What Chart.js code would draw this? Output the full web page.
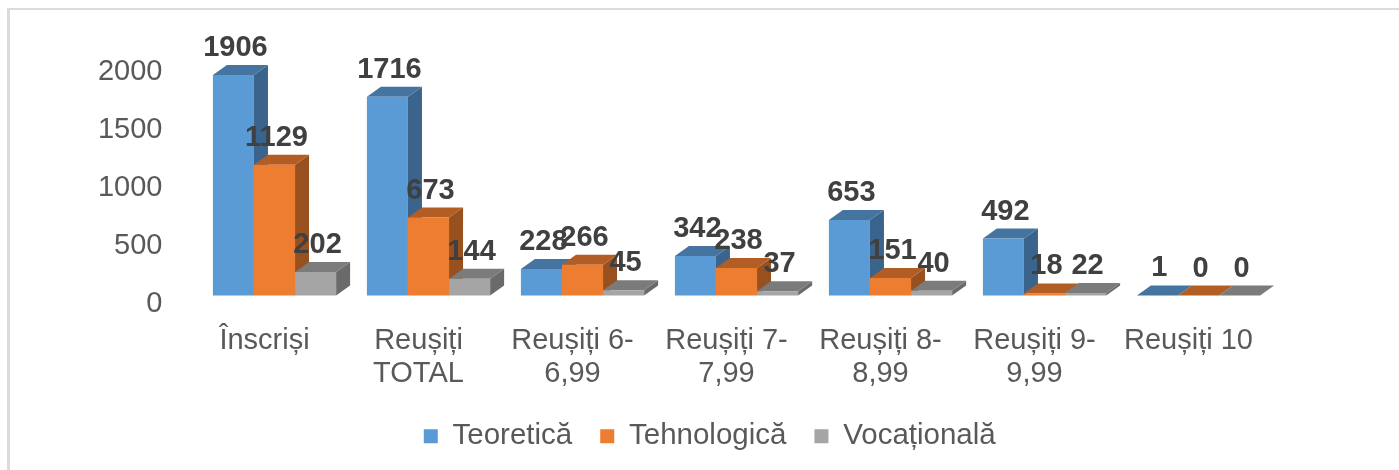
<!DOCTYPE html>
<html lang="ro">
<head>
<meta charset="utf-8">
<title>Reușiți</title>
<style>
  html, body { margin: 0; padding: 0; background: #fff; }
  #cadru { position: absolute; left: 7px; top: 8px; right: 0; bottom: 0; border-left: 3px solid #DCDCDC; border-top: 2px solid #DCDCDC; }
  canvas { display: block; position: absolute; left: 0; top: 0; filter: blur(0.5px); }
</style>
<script src="https://cdn.jsdelivr.net/npm/chart.js@4"></script>
</head>
<body>
<div id="cadru"></div>
<canvas id="grafic" width="1399" height="470"></canvas>
<script>
// ─── Data ───────────────────────────────────────────────────────────────────
const categorii = [
  'Înscriși',
  ['Reușiți', 'TOTAL'],
  ['Reușiți 6-', '6,99'],
  ['Reușiți 7-', '7,99'],
  ['Reușiți 8-', '8,99'],
  ['Reușiți 9-', '9,99'],
  'Reușiți 10'
];
const teoretica = [1906, 1716, 228, 342, 653, 492, 1];
const tehnologica = [1129, 673, 266, 238, 151, 18, 0];
const vocationala = [202, 144, 45, 37, 40, 22, 0];
const yTicks = [0, 500, 1000, 1500, 2000];

const FONT = '"Liberation Sans", Arial, sans-serif';
const DX = 14, DY = -10;
const LEGEND_DX = 72, LEGEND_DY = -9;

// fake 3D: side and top faces of each bar, front drawn in series order so orange covers blue's side
const bar3d = {
  id: 'bar3d',
  afterLayout(chart) {
    const l = chart.legend;
    l.left += LEGEND_DX; l.right += LEGEND_DX;
    l.top += LEGEND_DY; l.bottom += LEGEND_DY;
  },
  beforeDatasetDraw() {
    return false; // bars are drawn in beforeDatasetsDraw
  },
  beforeDatasetsDraw(chart) {
    const ctx = chart.ctx;
    chart.data.datasets.forEach((ds, i) => {
      chart.getDatasetMeta(i).data.forEach(bar => {
        const left = bar.x - bar.width / 2, right = bar.x + bar.width / 2;
        ctx.fillStyle = ds.sideColor;
        ctx.beginPath();
        ctx.moveTo(right, bar.y);
        ctx.lineTo(right + DX, bar.y + DY);
        ctx.lineTo(right + DX, bar.base + DY);
        ctx.lineTo(right, bar.base);
        ctx.closePath();
        ctx.fill();
        ctx.fillStyle = ds.topColor;
        ctx.beginPath();
        ctx.moveTo(left, bar.y);
        ctx.lineTo(left + DX, bar.y + DY);
        ctx.lineTo(right + DX, bar.y + DY);
        ctx.lineTo(right, bar.y);
        ctx.closePath();
        ctx.fill();
        bar.draw(ctx);
      });
    });
  },
  afterDatasetsDraw(chart) {
    const ctx = chart.ctx;
    ctx.save();
    ctx.font = 'bold 29px ' + FONT;
    ctx.fillStyle = '#404040';
    ctx.textAlign = 'center';
    ctx.textBaseline = 'middle';
    chart.data.datasets.forEach((ds, i) => {
      chart.getDatasetMeta(i).data.forEach((bar, j) => {
        ctx.fillText(ds.data[j], bar.x + 2, bar.y - 27);
      });
    });
    ctx.restore();
  }
};

new Chart(document.getElementById('grafic'), {
  type: 'bar',
  data: {
    labels: categorii,
    datasets: [
      { label: 'Teoretică', data: teoretica, backgroundColor: '#5B9BD5', sideColor: '#3A648C', topColor: '#44749F' },
      { label: 'Tehnologică', data: tehnologica, backgroundColor: '#ED7D31', sideColor: '#98501E', topColor: '#B15D24' },
      { label: 'Vocațională', data: vocationala, backgroundColor: '#A5A5A5', sideColor: '#6A6A6A', topColor: '#7B7B7B' }
    ]
  },
  options: {
    responsive: false,
    animation: false,
    devicePixelRatio: 1,
    layout: { padding: { left: 0, right: 123.5, top: 64, bottom: 0 } },
    datasets: { bar: { categoryPercentage: 0.8, barPercentage: 1, borderWidth: 0 } },
    plugins: {
      tooltip: { enabled: false },
      legend: {
        position: 'bottom',
        labels: {
          boxWidth: 14,
          boxHeight: 14,
          padding: 28,
          color: '#595959',
          font: { family: FONT, size: 29.5 }
        }
      }
    },
    scales: {
      x: {
        grid: { display: false },
        border: { display: false },
        afterFit(scale) { scale.height = 107; },
        ticks: {
          color: '#595959',
          font: { family: FONT, size: 29, lineHeight: 1.14 },
          maxRotation: 0,
          autoSkip: false,
          labelOffset: -10,
          padding: 21
        }
      },
      y: {
        min: 0,
        max: 2000,
        grid: { display: false },
        border: { display: false },
        afterFit(scale) { scale.width = 197.5; },
        afterBuildTicks(scale) { scale.ticks = yTicks.map(v => ({ value: v })); },
        ticks: {
          color: '#595959',
          font: { family: FONT, size: 29 },
          padding: 27,
          labelOffset: 8,
          callback: v => String(v)
        }
      }
    }
  },
  plugins: [bar3d]
});
</script>
</body>
</html>
